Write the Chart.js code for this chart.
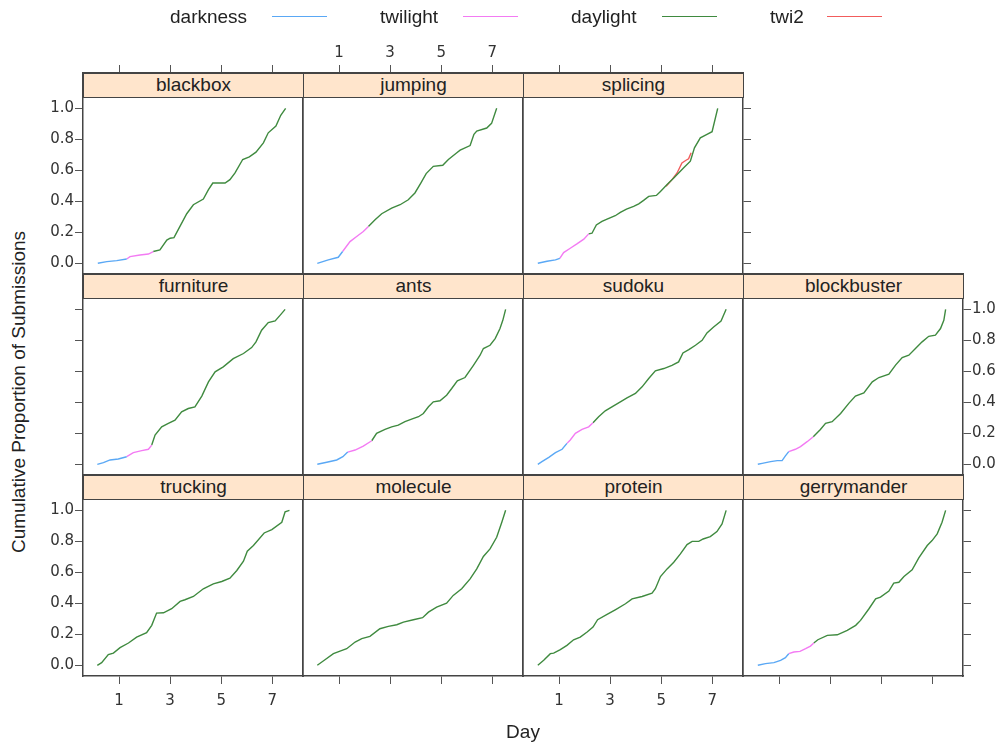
<!DOCTYPE html>
<html>
<head>
<meta charset="utf-8">
<script src="https://cdn.jsdelivr.net/npm/chart.js@4.4.1/dist/chart.umd.min.js"></script>
<style>
  body { margin: 0; background: #fff; width: 1007px; height: 744px; position: relative; overflow: hidden;
         font-family: "Liberation Sans", Arial, sans-serif; color: #222; }
  canvas { position: absolute; }
  .strip { position: absolute; box-sizing: border-box; height: 25px; background: #ffe5cc;
           border: 1px solid #444; text-align: center; font-size: 19px; line-height: 22px; z-index: 2; }
  .key { position: absolute; top: 6px; font-size: 19px; line-height: 22px; }
  .swatch { position: absolute; top: 16px; height: 0; border-top: 1.5px solid; }
  .title { position: absolute; font-size: 19px; white-space: nowrap; }
</style>
</head>
<body>
<script>
// tick values
const dayTicks = [1, 3, 5, 7];
const propTicks = [0, 0.2, 0.4, 0.6, 0.8, 1.0];

// series names and colours
const phaseNames = ['darkness', 'twilight', 'daylight', 'twi2'];
const phaseColors = ['#5aa8f5', '#f37bf3', '#3f8a3f', '#f25c5c'];

// panels, in lattice order (row, col)
const panelNames = ['blackbox', 'jumping', 'splicing',
                    'furniture', 'ants', 'sudoku', 'blockbuster',
                    'trucking', 'molecule', 'protein', 'gerrymander'];
const panelRows = [0, 0, 0, 1, 1, 1, 1, 2, 2, 2, 2];
const panelCols = [0, 1, 2, 0, 1, 2, 3, 0, 1, 2, 3];

// cumulative proportion by day; breaks = last index of darkness, last index of twilight
const blackboxDay = [0.17,0.52,0.91,1.30,1.43,1.82,2.15,2.34,2.60,2.87,3.00,3.15,3.39,3.65,3.91,4.30,4.50,4.67,5.15,5.34,5.54,5.84,6.10,6.36,6.65,6.84,7.14,7.33,7.52];
const blackboxCum = [0,0.011,0.017,0.028,0.043,0.054,0.060,0.076,0.086,0.150,0.162,0.166,0.240,0.320,0.378,0.415,0.475,0.518,0.518,0.540,0.583,0.670,0.687,0.717,0.777,0.842,0.886,0.955,1.0];
const blackboxBreaks = [3, 7];

const jumpingDay = [0.15,0.58,0.97,1.14,1.43,1.69,1.95,2.15,2.41,2.67,3.06,3.39,3.71,3.97,4.20,4.41,4.69,5.06,5.28,5.61,5.74,6.13,6.28,6.39,6.78,6.97,7.17];
const jumpingCum = [0,0.022,0.039,0.076,0.140,0.173,0.205,0.238,0.281,0.320,0.356,0.378,0.410,0.454,0.518,0.579,0.626,0.633,0.670,0.713,0.730,0.760,0.832,0.853,0.873,0.903,1.0];
const jumpingBreaks = [3, 7];

const splicingDay = [0.17,0.53,0.86,1.03,1.18,1.44,1.70,1.97,2.16,2.29,2.46,2.68,2.88,3.20,3.40,3.64,3.92,4.12,4.31,4.51,4.81,4.97,5.23,5.49,5.88,6.14,6.30,6.53,6.79,6.99,7.21];
const splicingCum = [0,0.013,0.022,0.032,0.069,0.097,0.125,0.156,0.190,0.194,0.248,0.270,0.285,0.307,0.328,0.350,0.367,0.384,0.406,0.432,0.438,0.464,0.508,0.551,0.616,0.659,0.745,0.810,0.832,0.849,1.0];
const splicingBreaks = [3, 8];
const splicingTwi2Day = [5.19,5.42,5.62,5.81,5.97,6.07,6.17];
const splicingTwi2Cum = [0.497,0.540,0.583,0.648,0.665,0.674,0.713];

const furnitureDay = [0.15,0.39,0.65,0.97,1.30,1.56,1.89,2.15,2.28,2.41,2.67,2.93,3.19,3.45,3.71,3.97,4.24,4.50,4.76,5.08,5.47,5.87,6.19,6.36,6.58,6.84,7.11,7.30,7.50];
const furnitureCum = [0,0.011,0.028,0.034,0.049,0.075,0.088,0.097,0.124,0.189,0.242,0.264,0.285,0.339,0.360,0.371,0.440,0.532,0.597,0.629,0.682,0.715,0.753,0.790,0.865,0.914,0.925,0.961,1.0];
const furnitureBreaks = [4, 8];

const antsDay = [0.15,0.52,0.91,1.15,1.34,1.63,1.95,2.28,2.47,2.80,3.06,3.32,3.58,3.84,4.11,4.30,4.50,4.69,4.95,5.21,5.41,5.63,5.93,6.26,6.52,6.65,6.91,7.11,7.30,7.41,7.52];
const antsCum = [0,0.013,0.028,0.049,0.079,0.092,0.118,0.152,0.200,0.225,0.242,0.253,0.275,0.292,0.307,0.328,0.371,0.403,0.410,0.446,0.489,0.539,0.560,0.639,0.704,0.747,0.768,0.811,0.876,0.929,1.0];
const antsBreaks = [4, 7];

const sudokuDay = [0.17,0.33,0.60,0.86,1.12,1.31,1.44,1.64,1.90,2.16,2.33,2.55,2.81,3.07,3.40,3.66,3.99,4.25,4.51,4.77,5.10,5.42,5.68,5.85,6.08,6.34,6.60,6.79,7.05,7.34,7.54];
const sudokuCum = [0,0.017,0.045,0.075,0.097,0.135,0.157,0.200,0.225,0.242,0.268,0.307,0.345,0.371,0.403,0.429,0.457,0.500,0.554,0.603,0.618,0.639,0.661,0.719,0.740,0.768,0.800,0.848,0.886,0.925,1.0];
const sudokuBreaks = [5, 10];

const blockbusterDay = [0.17,0.34,0.67,0.93,1.12,1.25,1.38,1.64,1.84,2.10,2.34,2.62,2.82,3.08,3.41,3.73,3.99,4.32,4.65,4.91,5.30,5.56,5.82,6.08,6.34,6.60,6.86,7.12,7.32,7.45,7.52];
const blockbusterCum = [0,0.006,0.017,0.024,0.024,0.054,0.082,0.097,0.114,0.146,0.178,0.225,0.264,0.275,0.328,0.393,0.440,0.461,0.532,0.560,0.582,0.640,0.689,0.704,0.747,0.790,0.826,0.833,0.876,0.929,1.0];
const blockbusterBreaks = [6, 10];

const truckingDay = [0.15,0.32,0.58,0.78,1.04,1.37,1.69,2.08,2.28,2.47,2.74,3.06,3.39,3.58,3.91,4.30,4.69,5.02,5.34,5.61,5.87,6.02,6.26,6.68,6.98,7.37,7.50,7.67];
const truckingCum = [0,0.017,0.069,0.079,0.114,0.144,0.182,0.210,0.258,0.337,0.339,0.365,0.412,0.423,0.444,0.494,0.526,0.541,0.562,0.612,0.672,0.736,0.773,0.854,0.876,0.923,0.991,1.0];
const truckingBreaks = [0, 0];

const moleculeDay = [0.15,0.45,0.78,1.04,1.30,1.63,1.89,2.21,2.60,2.93,3.26,3.52,3.91,4.27,4.50,4.82,5.21,5.47,5.80,6.13,6.39,6.65,6.91,7.17,7.37,7.52];
const moleculeCum = [0,0.036,0.075,0.092,0.107,0.150,0.172,0.187,0.236,0.251,0.262,0.279,0.294,0.307,0.343,0.376,0.401,0.451,0.494,0.558,0.622,0.702,0.751,0.826,0.923,1.0];
const moleculeBreaks = [0, 0];

const proteinDay = [0.17,0.40,0.66,0.79,1.05,1.31,1.57,1.83,2.10,2.33,2.51,2.88,3.20,3.60,3.86,4.25,4.64,4.77,4.97,5.23,5.49,5.75,6.01,6.21,6.47,6.64,6.92,7.18,7.38,7.54];
const proteinCum = [0,0.032,0.075,0.079,0.101,0.129,0.165,0.182,0.215,0.247,0.294,0.328,0.358,0.397,0.429,0.444,0.466,0.494,0.573,0.622,0.665,0.719,0.779,0.800,0.800,0.815,0.830,0.863,0.912,1.0];
const proteinBreaks = [0, 0];

const gerrymanderDay = [0.17,0.47,0.80,1.06,1.25,1.38,1.58,1.82,2.04,2.23,2.36,2.52,2.89,3.28,3.67,4.00,4.19,4.52,4.78,4.97,5.30,5.49,5.69,5.89,6.21,6.47,6.80,6.99,7.19,7.38,7.52];
const gerrymanderCum = [0,0.011,0.017,0.032,0.049,0.075,0.086,0.090,0.107,0.124,0.144,0.165,0.193,0.197,0.225,0.258,0.290,0.365,0.429,0.440,0.479,0.530,0.536,0.573,0.616,0.693,0.773,0.805,0.848,0.923,1.0];
const gerrymanderBreaks = [5, 10];

const panelData = {
  blackbox: [blackboxDay, blackboxCum, blackboxBreaks],
  jumping: [jumpingDay, jumpingCum, jumpingBreaks],
  splicing: [splicingDay, splicingCum, splicingBreaks],
  furniture: [furnitureDay, furnitureCum, furnitureBreaks],
  ants: [antsDay, antsCum, antsBreaks],
  sudoku: [sudokuDay, sudokuCum, sudokuBreaks],
  blockbuster: [blockbusterDay, blockbusterCum, blockbusterBreaks],
  trucking: [truckingDay, truckingCum, truckingBreaks],
  molecule: [moleculeDay, moleculeCum, moleculeBreaks],
  protein: [proteinDay, proteinCum, proteinBreaks],
  gerrymander: [gerrymanderDay, gerrymanderCum, gerrymanderBreaks]
};

// layout of the lattice
const M = 50;                       // margin around each panel canvas for axes
const cellW = 220, cellH = 201;
const gridLeft = 83, gridTop = 73;
const xMin = -0.41, xMax = 8.20;
const yMin = -0.069, yMax = 1.228;  // top of range sits under the strip
const labelPad = { top: 3, bottom: 8, left: 1, right: 1 };

function toPoints(days, cums, from, to) {
  const pts = [];
  for (let i = from; i <= to; i++) pts.push({ x: days[i], y: cums[i] });
  return pts;
}

function axis(position, ticksOn, labelsOn) {
  const horiz = position === 'top' || position === 'bottom';
  return {
    type: 'linear',
    position: position,
    min: horiz ? xMin : yMin,
    max: horiz ? xMax : yMax,
    afterBuildTicks: s => { s.ticks = (horiz ? dayTicks : propTicks).map(v => ({ value: v })); },
    afterFit: s => { if (horiz) s.height = M; else s.width = M; },
    grid: { display: ticksOn, drawOnChartArea: false, drawTicks: true, tickLength: 8, color: '#555', lineWidth: 1 },
    border: { display: true, color: '#444', width: 1.5 },
    ticks: {
      display: labelsOn, padding: labelPad[position], color: '#333', autoSkip: false, maxRotation: 0,
      font: { family: 'DejaVu Sans', size: 15 },
      callback: v => horiz ? String(v) : v.toFixed(1)
    }
  };
}

function makePanel(i) {
  const name = panelNames[i], row = panelRows[i], col = panelCols[i];
  const left = gridLeft + cellW * col, top = gridTop + cellH * row;
  const [days, cums, breaks] = panelData[name];
  const last = days.length - 1;

  const datasets = [];
  const parts = [[0, breaks[0]], [breaks[0], breaks[1]], [breaks[1], last]];
  parts.forEach((p, k) => {
    if (p[1] - p[0] < 1) return;
    datasets.push({ label: phaseNames[k], data: toPoints(days, cums, p[0], p[1]), borderColor: phaseColors[k] });
  });
  if (name === 'splicing') {
    datasets.push({ label: phaseNames[3], data: toPoints(splicingTwi2Day, splicingTwi2Cum, 0, splicingTwi2Day.length - 1), borderColor: phaseColors[3] });
  }

  const cv = document.createElement('canvas');
  cv.width = cellW + 2 * M;
  cv.height = cellH + 2 * M;
  cv.style.left = (left - M) + 'px';
  cv.style.top = (top - M) + 'px';
  document.body.appendChild(cv);

  const rightmost = (row === 0 && col === 2) || col === 3;
  new Chart(cv, {
    type: 'line',
    data: { datasets: datasets },
    options: {
      responsive: false,
      animation: false,
      events: [],
      layout: { padding: 0 },
      elements: { point: { radius: 0 }, line: { borderWidth: 1.4, tension: 0, fill: false } },
      plugins: { legend: { display: false }, tooltip: { enabled: false } },
      scales: {
        x: axis('bottom', row === 2, row === 2 && col % 2 === 0),
        xTop: axis('top', row === 0, row === 0 && col % 2 === 1),
        y: axis('left', col === 0, col === 0 && row % 2 === 0),
        yRight: axis('right', rightmost, rightmost && row % 2 === 1)
      }
    }
  });

  const strip = document.createElement('div');
  strip.className = 'strip';
  strip.style.left = left + 'px';
  strip.style.top = top + 'px';
  strip.style.width = (cellW + 1) + 'px';
  strip.textContent = name;
  document.body.appendChild(strip);
}

panelNames.forEach((n, i) => makePanel(i));

// legend across the top
const keyText = [170, 380, 571, 770];
const keyLine = [272, 463, 662, 827];
phaseNames.forEach((n, k) => {
  const t = document.createElement('div');
  t.className = 'key';
  t.style.left = keyText[k] + 'px';
  t.textContent = n;
  document.body.appendChild(t);
  const s = document.createElement('div');
  s.className = 'swatch';
  s.style.left = keyLine[k] + 'px';
  s.style.width = '55px';
  s.style.borderColor = phaseColors[k];
  document.body.appendChild(s);
});

// axis titles
const yTitle = document.createElement('div');
yTitle.className = 'title';
yTitle.textContent = 'Cumulative Proportion of Submissions';
yTitle.style.left = '19px';
yTitle.style.top = '392px';
yTitle.style.transform = 'translate(-50%, -50%) rotate(-90deg)';
document.body.appendChild(yTitle);

const xTitle = document.createElement('div');
xTitle.className = 'title';
xTitle.textContent = 'Day';
xTitle.style.left = '523px';
xTitle.style.top = '732px';
xTitle.style.transform = 'translate(-50%, -50%)';
document.body.appendChild(xTitle);
</script>
</body>
</html>
